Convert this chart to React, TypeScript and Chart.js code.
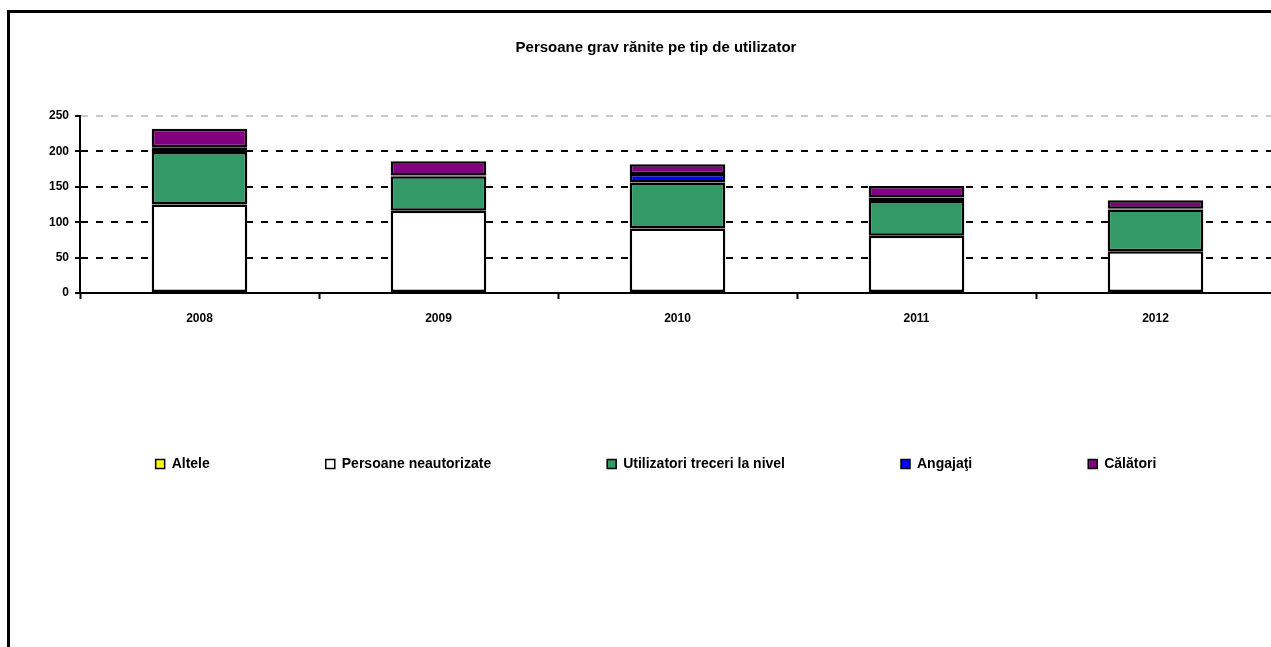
import React, { useEffect, useRef } from "react";
import { Chart, registerables } from "chart.js";

Chart.register(...registerables);

const titleText = "Persoane grav rănite pe tip de utilizator";
const years = ["2008", "2009", "2010", "2011", "2012"];
const altele = [0, 0, 0, 0, 0];
const persoaneNeautorizate = [125, 116, 91, 81, 59];
const utilizatoriTreceri = [74, 49, 65, 49, 59];
const angajati = [7, 1, 12, 5, 1];
const calatori = [26, 20, 14, 16, 12];
const yTicks = [0, 50, 100, 150, 200, 250];

const FONT = 'Arial, "Liberation Sans", sans-serif';

export default function App() {
  const ref = useRef<HTMLCanvasElement | null>(null);

  useEffect(() => {
    if (!ref.current) return;
    const mk = (label: string, data: number[], color: string, bw = 2.5) => ({
      label,
      data,
      backgroundColor: color,
      borderColor: "#000000",
      borderWidth: bw,
      borderSkipped: false as const,
      barPercentage: 0.4,
      categoryPercentage: 1,
    });
    const chart = new Chart(ref.current, {
      type: "bar",
      data: {
        labels: years,
        datasets: [
          mk("Altele", altele, "#FFFF00", 0),
          mk("Persoane neautorizate", persoaneNeautorizate, "#FFFFFF"),
          mk("Utilizatori treceri la nivel", utilizatoriTreceri, "#339966"),
          mk("Angajaţi", angajati, "#0000FF"),
          mk("Călători", calatori, "#800080"),
        ],
      },
      options: {
        animation: false,
        responsive: false,
        layout: { padding: { left: 27, right: 0, top: 0, bottom: 172 } },
        plugins: {
          title: {
            display: true,
            text: titleText,
            color: "#000",
            font: { family: FONT, size: 15, weight: "bold" },
            padding: { top: 26, bottom: 59 },
          },
          legend: {
            display: true,
            position: "bottom",
            labels: {
              color: "#000",
              font: { family: FONT, size: 14, weight: "bold" },
              boxWidth: 9,
              boxHeight: 9,
              padding: 116,
              generateLabels: (c: any) => {
                const items = Chart.defaults.plugins.legend.labels.generateLabels(c);
                return items.map((it: any) => ({
                  ...it,
                  lineWidth: 1.5,
                  strokeStyle: "#000",
                }));
              },
            },
          },
          tooltip: { enabled: false },
        },
        scales: {
          x: {
            stacked: true,
            afterFit: (s: any) => {
              s.height = 48;
            },
            grid: {
              offset: true,
              drawOnChartArea: false,
              drawTicks: true,
              tickLength: 6,
              tickColor: "#000",
              tickWidth: 2,
            },
            border: { display: true, color: "#000", width: 2 },
            ticks: {
              color: "#000",
              padding: 12,
              font: { family: FONT, size: 12, weight: "bold" },
            },
          },
          y: {
            stacked: true,
            min: 0,
            max: 250,
            afterFit: (s: any) => {
              s.width = 43;
            },
            afterBuildTicks: (s: any) => {
              s.ticks = yTicks.map((v) => ({ value: v }));
            },
            grid: {
              color: (ctx: any) =>
                ctx.tick && ctx.tick.value === 250
                  ? "#c8c8c8"
                  : ctx.tick && ctx.tick.value === 0
                  ? "rgba(0,0,0,0)"
                  : "#000",
              lineWidth: 2,
              drawTicks: true,
              tickLength: 5,
              tickColor: "#000",
              tickWidth: 2,
              tickBorderDash: [],
            },
            border: { display: true, color: "#000", width: 2, dash: [7, 8] },
            ticks: {
              color: "#000",
              padding: 6,
              font: { family: FONT, size: 12, weight: "bold" },
            },
          },
        },
      },
    });
    return () => chart.destroy();
  }, []);

  return (
    <div
      style={{
        position: "fixed",
        left: 0,
        top: 0,
        width: 1271,
        height: 647,
        overflow: "hidden",
        background: "#fff",
      }}
    >
      <div
        style={{
          position: "absolute",
          left: 7,
          top: 10,
          width: 1300,
          height: 700,
          borderTop: "3px solid #000",
          borderLeft: "3px solid #000",
        }}
      >
        <canvas
          ref={ref}
          width={1265}
          height={640}
          style={{ display: "block", width: 1265, height: 640 }}
        />
      </div>
    </div>
  );
}
